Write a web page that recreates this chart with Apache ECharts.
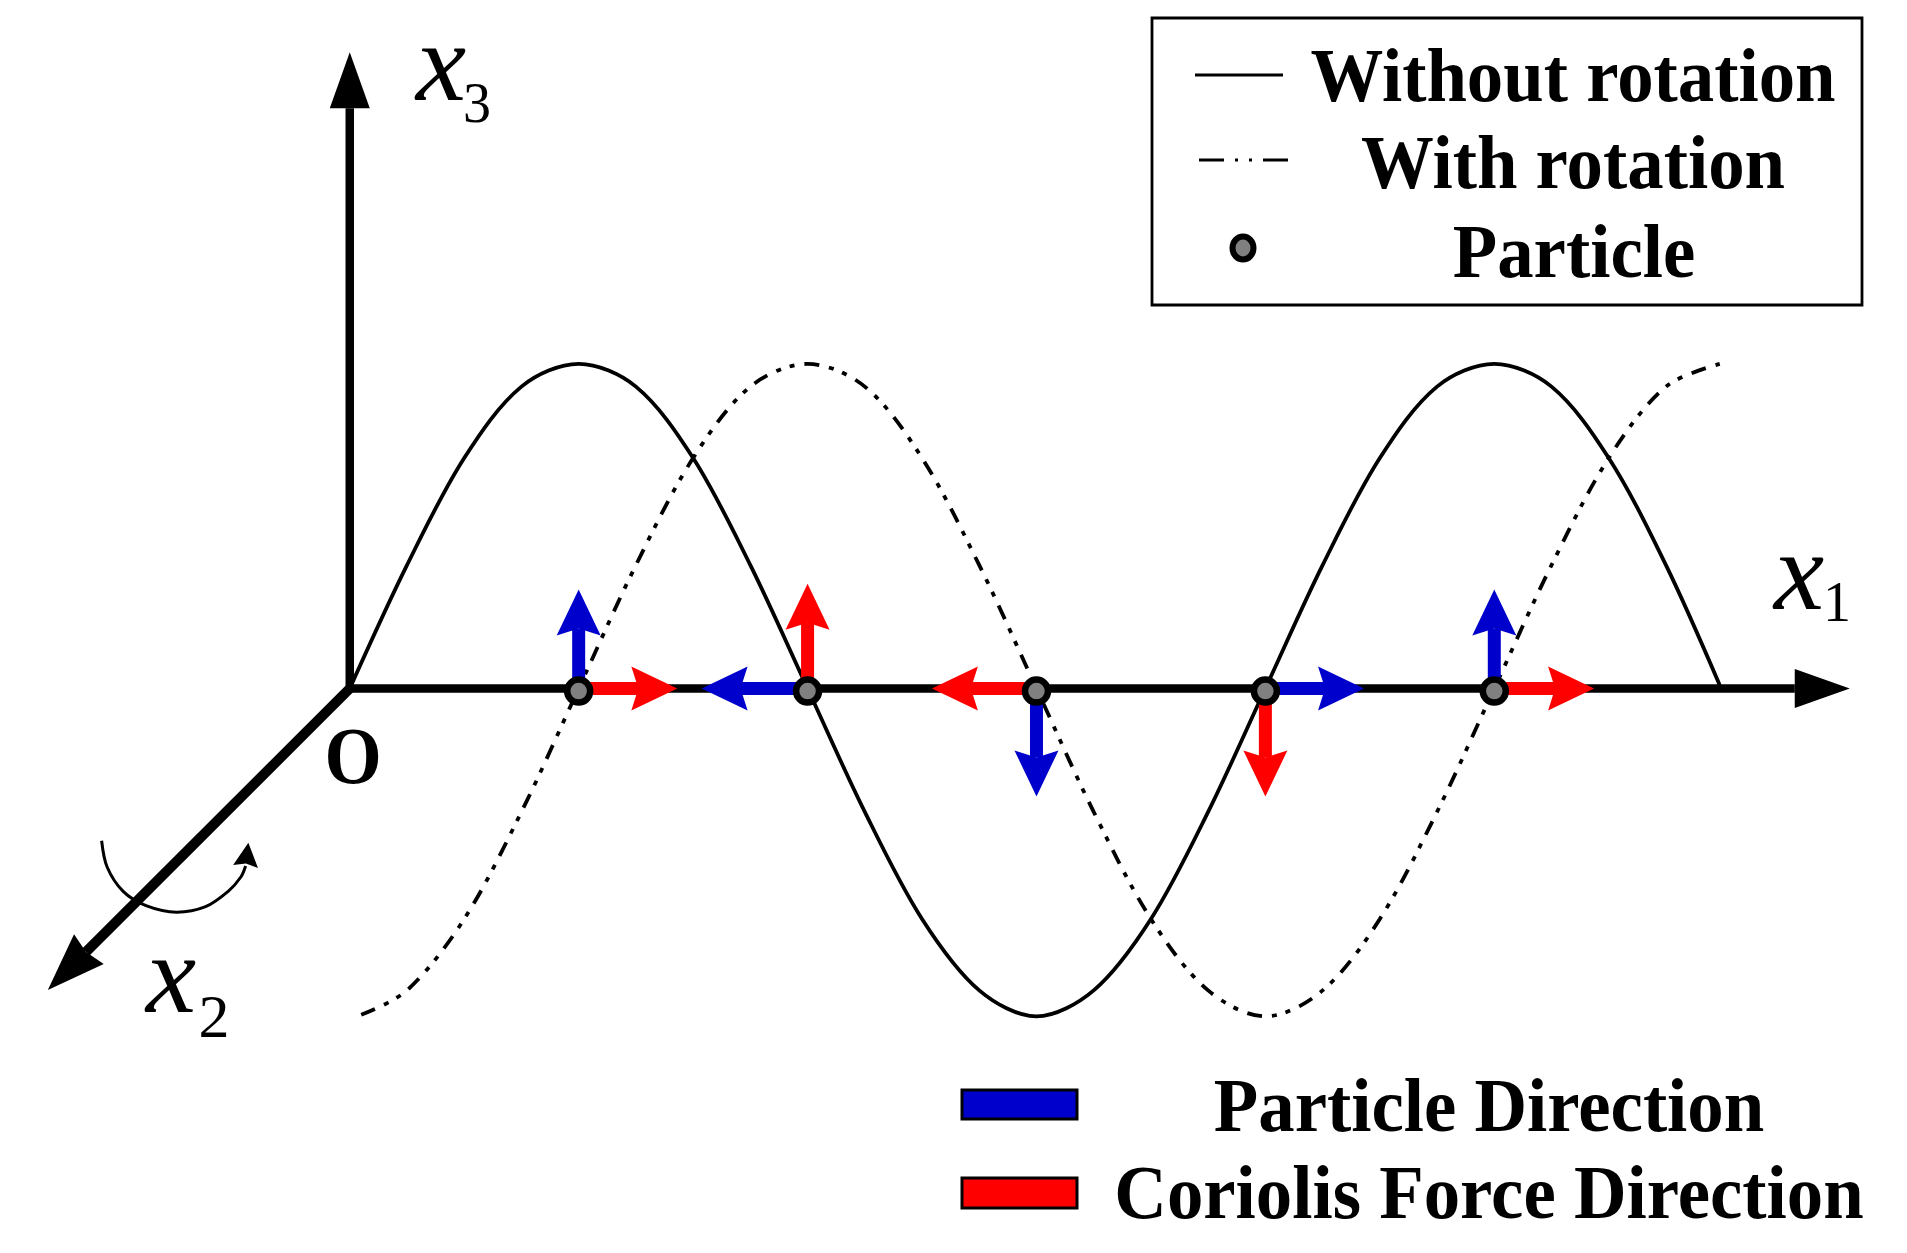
<!DOCTYPE html>
<html><head><meta charset="utf-8">
<style>html,body{margin:0;padding:0;background:#fff}#c{width:1907px;height:1253px}</style>
<script src="https://cdn.jsdelivr.net/npm/echarts@6/dist/echarts.min.js"></script>
</head><body><div id="c"></div>
<script>
// Curve samples, x1 in quarter wavelengths, x3 in amplitudes
const solidX = [0,.25,.5,.75,1,1.25,1.5,1.75,2,2.25,2.5,2.75,3,3.25,3.5,3.75,4,4.25,4.5,4.75,5,5.25,5.5,5.75,5.985];
const withoutRotation = [0,.38,.71,.93,1,.93,.71,.38,0,-.38,-.71,-.93,-1.01,-.93,-.71,-.38,0,.38,.71,.93,1,.93,.71,.38,.01];
const dashX = [.05,.25,.5,.75,1,1.25,1.5,1.75,2,2.25,2.5,2.75,3,3.25,3.5,3.75,4,4.25,4.5,4.75,5,5.25,5.5,5.75,5.985];
const withRotation = [-1.005,-.93,-.71,-.38,0,.38,.71,.93,1,.93,.71,.38,0,-.38,-.71,-.93,-1.01,-.93,-.71,-.38,0,.38,.71,.93,1];
const particleX = [1,2,3,4,5];
const particleY = [-.008,-.008,-.008,-.008,-.008];
// arrows: x, y, dx, dy (data units)
const blueArrows = [[1,0,0,.305],[2,0,-.463,0],[3,0,0,-.333],[4,0,.431,0],[5,0,0,.305]];
const redArrows = [[1,0,.431,0],[2,0,0,.323],[3,0,-.457,0],[4,0,0,-.333],[5,0,.436,0]];
const axisArrows = [[0,0,6.553,0],[0,0,0,1.96],[0,0,-1.319,-.929]];
const arcX = [-1.084,-1.06,-.99,-.89,-.756,-.63,-.53,-.475,-.455];
const arcY = [-.469,-.55,-.625,-.669,-.689,-.672,-.624,-.58,-.547];
const arcTip = [[-.455,-.547,.012,.072]];
const legendLabels = ['Without rotation','With rotation','Particle'];
const dirLabels = ['Particle Direction','Coriolis Force Direction'];
const BLUE='#0000CD', RED='#FF0000', SERIF='"Liberation Serif"';
const dashPat=[15,10,5,9,5,10];

function arrowSeries(name,data,color,shaft,len,wid,conc,z){
  return {type:'custom',name,coordinateSystem:'cartesian2d',z,silent:true,
    encode:{x:0,y:1},clip:false,data,
    renderItem(p,api){
      const a=api.coord([api.value(0),api.value(1)]);
      const t=api.coord([api.value(0)+api.value(2),api.value(1)+api.value(3)]);
      let dx=t[0]-a[0],dy=t[1]-a[1];const L=Math.hypot(dx,dy);dx/=L;dy/=L;
      const nx=-dy,ny=dx,w=wid/2,s=shaft/2;
      const b=[t[0]-dx*len,t[1]-dy*len],c=[t[0]-dx*(len-conc),t[1]-dy*(len-conc)];
      const st={fill:color,stroke:null};
      const kids=[{type:'polygon',shape:{points:[t,[b[0]+nx*w,b[1]+ny*w],c,[b[0]-nx*w,b[1]-ny*w]]},style:st}];
      if(shaft>0)kids.push({type:'polygon',shape:{points:[[a[0]+nx*s,a[1]+ny*s],[c[0]+nx*s,c[1]+ny*s],[c[0]-nx*s,c[1]-ny*s],[a[0]-nx*s,a[1]-ny*s]]},style:st});
      return {type:'group',children:kids};
    }};
}
const pts=(xs,ys)=>xs.map((x,i)=>[x,ys[i]]);
const txt=(x,y,t,size,sy,sx)=>({type:'text',x,y,z:20,scaleY:sy||1,scaleX:sx||1,style:{text:t,fontFamily:SERIF,fontSize:size,fontWeight:'bold',fill:'#000',align:'center',verticalAlign:'middle'}});
const xGlyph=(x,y)=>({type:'text',x,y,z:20,style:{text:'x',fontFamily:SERIF,fontStyle:'italic',fontSize:113,fill:'#000',align:'left',verticalAlign:'middle'}});
const sub=(x,y,t,s)=>({type:'text',x,y,z:20,style:{text:t,fontFamily:SERIF,fontSize:s||56,fill:'#000',align:'center',verticalAlign:'middle'}});

const chart=echarts.init(document.getElementById('c'));
chart.setOption({
  backgroundColor:'#fff',animation:false,
  grid:{left:0,right:0,top:0,bottom:0},
  xAxis:{type:'value',min:-1.528,max:6.803,show:false},
  yAxis:{type:'value',min:-1.739,max:2.121,show:false},
  series:[
    arrowSeries('Axes',[axisArrows[0]],'#000',8.5,55,39,0,3),
    arrowSeries('Axes',[axisArrows[1]],'#000',8.5,56,40,0,3),
    arrowSeries('Axes',[axisArrows[2]],'#000',10,58,42,4,3),
    {type:'line',name:'Without rotation',data:pts(solidX,withoutRotation),smooth:.33,symbol:'none',z:2,lineStyle:{color:'#000',width:3.8}},
    {type:'line',name:'With rotation',data:pts(dashX,withRotation),smooth:.33,symbol:'none',z:2,lineStyle:{color:'#000',width:3.8,type:dashPat}},
    {type:'line',name:'Rotation',data:pts(arcX,arcY),smooth:.33,symbol:'none',z:2,lineStyle:{color:'#000',width:3}},
    arrowSeries('Rotation head',arcTip,'#000',0,24,25,3,3),
    arrowSeries('Particle Direction',blueArrows,BLUE,13,46,44,7,5),
    arrowSeries('Coriolis Force Direction',redArrows,RED,13,46,44,7,5),
    {type:'scatter',name:'Particle',data:pts(particleX,particleY),symbol:'circle',symbolSize:23,z:8,
      itemStyle:{color:'#808080',borderColor:'#000',borderWidth:6.5,opacity:1}}
  ],
  graphic:[
    {type:'rect',z:10,shape:{x:1152,y:18,width:710,height:287},style:{fill:'#fff',stroke:'#000',lineWidth:2.8}},
    {type:'line',z:20,shape:{x1:1195,y1:75,x2:1283,y2:75},style:{stroke:'#000',lineWidth:3.2}},
    {type:'line',z:20,shape:{x1:1199,y1:160,x2:1290,y2:160},style:{stroke:'#000',lineWidth:3.2,lineDash:[25,11,3,11,3,11,25]}},
    {type:'ellipse',z:20,shape:{cx:1243,cy:248,rx:10.5,ry:11.5},style:{fill:'#808080',stroke:'#000',lineWidth:6}},
    txt(1573,81,legendLabels[0],72.8,1.06),
    txt(1573,168,legendLabels[1],72.8,1.06),
    txt(1574,257,legendLabels[2],72.8,1.06),
    txt(1489,1111,dirLabels[0],72.8,1.06),
    txt(1489,1198,dirLabels[1],72.8,1.06),
    {type:'rect',z:20,shape:{x:962,y:1090,width:115,height:29},style:{fill:BLUE,stroke:'#000',lineWidth:3}},
    {type:'rect',z:20,shape:{x:962,y:1178,width:115,height:30},style:{fill:RED,stroke:'#000',lineWidth:3}},
    txt(353,762,'O',80,1,.92),
    xGlyph(416,70),sub(477,107,'3'),
    xGlyph(1774,579),sub(1837,606,'1'),
    xGlyph(146,982),sub(214,1021,'2',62)
  ]
});
</script></body></html>
